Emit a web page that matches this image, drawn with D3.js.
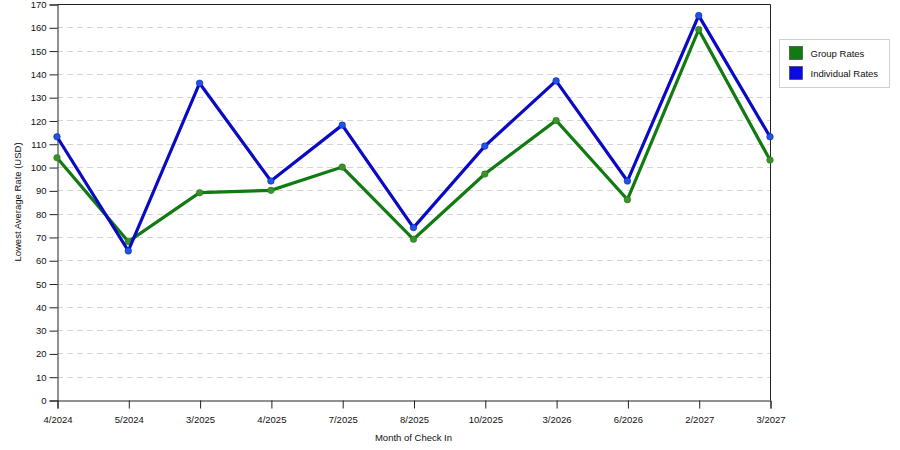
<!DOCTYPE html>
<html>
<head>
<meta charset="utf-8">
<script src="https://cdn.jsdelivr.net/npm/d3@7"></script>
<style>
  body { margin: 0; background: #fff; }
  svg text { font-family: "Liberation Sans", Arial, sans-serif; font-size: 9.5px; fill: #111; }
</style>
</head>
<body>
<svg id="chart" width="900" height="450"></svg>
<script>
// chart data
var months = ['4/2024', '5/2024', '3/2025', '4/2025', '7/2025', '8/2025',
              '10/2025', '3/2026', '6/2026', '2/2027', '3/2027'];
var groupRates = [104, 68, 89, 90, 100, 69, 97, 120, 86, 159, 103];
var individualRates = [113, 64, 136, 94, 118, 74, 109, 137, 94, 165, 113];
var yTicks = d3.range(0, 171, 10);

var svg = d3.select('#chart');
var plotLeft = 57, plotRight = 770, plotTop = 4, plotBottom = 400;

var x = d3.scalePoint().domain(months).range([plotLeft, plotRight]);
var y = d3.scaleLinear().domain([0, 170]).range([plotBottom, plotTop]);

// dashed grid lines
svg.append('g').selectAll('line')
    .data(yTicks.filter(function (d) { return d > 0 && d < 170; }))
    .enter().append('line')
    .attr('x1', plotLeft).attr('x2', plotRight)
    .attr('y1', function (d) { return Math.round(y(d)) + 0.5; })
    .attr('y2', function (d) { return Math.round(y(d)) + 0.5; })
    .attr('stroke', '#d4d4d4')
    .attr('stroke-dasharray', '6,4');

// plot frame (top and right sides)
svg.append('path')
    .attr('d', 'M' + (plotLeft + 0.5) + ',' + (plotTop + 0.5) + 'H' + (plotRight + 0.5) + 'V' + (plotBottom + 0.5))
    .attr('fill', 'none').attr('stroke', '#222');

var yAxis = svg.append('g')
    .attr('transform', 'translate(' + (plotLeft + 0.5) + ',0.5)')
    .call(d3.axisLeft(y).tickValues(yTicks).tickSize(8).tickPadding(3));

var xAxis = svg.append('g')
    .attr('transform', 'translate(0.5,' + (plotBottom + 0.5) + ')')
    .call(d3.axisBottom(x).tickSize(8).tickPadding(8));

[yAxis, xAxis].forEach(function (ax) {
    ax.selectAll('path, line').attr('stroke', '#222');
    ax.selectAll('text').style('font-family', '"Liberation Sans", Arial, sans-serif')
        .style('font-size', '9.5px').attr('fill', '#111');
});

// axis titles
svg.append('text')
    .attr('x', (plotLeft + plotRight) / 2).attr('y', 441)
    .attr('text-anchor', 'middle')
    .text('Month of Check In');

svg.append('text')
    .attr('transform', 'translate(21,' + ((plotTop + plotBottom) / 2) + ') rotate(-90)')
    .attr('text-anchor', 'middle')
    .text('Lowest Average Rate (USD)');

var series = [
    {name: 'Group Rates', values: groupRates, color: '#117a11', dot: '#3f8f2a', swatch: '#117a11'},
    {name: 'Individual Rates', values: individualRates, color: '#0a0ac4', dot: '#1f56e0', swatch: '#0a0ae6'}
];

var line = d3.line()
    .x(function (d, i) { return x(months[i]); })
    .y(function (d) { return y(d); });

series.forEach(function (s) {
    svg.append('path')
        .datum(s.values)
        .attr('d', line)
        .attr('fill', 'none')
        .attr('stroke', s.color)
        .attr('stroke-width', 3.2)
        .attr('stroke-linejoin', 'miter');

    svg.append('g').selectAll('circle')
        .data(s.values)
        .enter().append('circle')
        .attr('cx', function (d, i) { return x(months[i]); })
        .attr('cy', function (d) { return y(d); })
        .attr('r', 3.3)
        .attr('fill', s.dot)
        .attr('stroke', s.color)
        .attr('stroke-opacity', 0.5)
        .attr('stroke-width', 1);
});

// legend
var legend = svg.append('g').attr('transform', 'translate(779.5,39.5)');
legend.append('rect')
    .attr('width', 110).attr('height', 48)
    .attr('fill', '#fff').attr('stroke', '#d0d0d0');

series.forEach(function (s, i) {
    var row = legend.append('g').attr('transform', 'translate(10,' + (7 + i * 20) + ')');
    row.append('rect')
        .attr('width', 13).attr('height', 13)
        .attr('fill', s.swatch)
        .attr('stroke', '#333').attr('stroke-width', 0.6);
    row.append('text')
        .attr('x', 21).attr('y', 10.5)
        .text(s.name);
});
</script>
</body>
</html>
